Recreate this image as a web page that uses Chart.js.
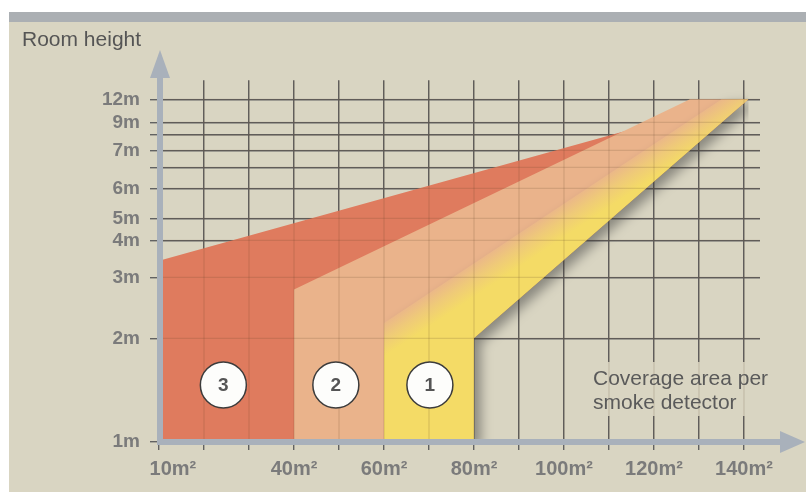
<!DOCTYPE html>
<html>
<head>
<meta charset="utf-8">
<script src="https://cdn.jsdelivr.net/npm/chart.js@4.4.1/dist/chart.umd.min.js"></script>
<style>
  html, body { margin: 0; padding: 0; background: #fff; }
  #contenedor { position: relative; width: 806px; height: 493px; }
</style>
</head>
<body>
<div id="contenedor"><canvas id="chartCobertura"></canvas></div>
<script>
// ticks de los ejes
const areaTicks = [10, 20, 30, 40, 50, 60, 70, 80, 90, 100, 110, 120, 130, 140];
const areaTickLabels = ['     10m²', '', '', '40m²', '', '60m²', '', '80m²', '', '100m²', '', '120m²', '', '140m²'];
const heightTicks = [1, 2, 3, 4, 5, 6, 6.5, 7, 8, 9, 12];
const heightTickLabels = ['1m', '2m', '3m', '4m', '5m', '6m', '', '7m', '', '9m', '12m'];

// borde superior de cada zona (x = m², y = altura en m)
const zona3X = [10, 139, 141];
const zona3Y = [3.45, 12, 12];
const zona2X = [40, 128, 141];
const zona2Y = [2.8, 12, 12];
const zona1X = [60, 135, 141];
const zona1Y = [2.25, 12, 12];
// borde inferior / derecho compartido
const bordeInfX = [10, 80, 80, 141];
const bordeInfY = [1, 1, 2, 12];

// marcadores numerados
const marcasTexto = ['3', '2', '1'];
const marcasX = [24.3, 49.3, 70.2];
const marcasY = [1.55, 1.55, 1.55];

const FUENTE = "'Liberation Sans', Arial, sans-serif";
const FONDO = '#d9d5c2';

// el eje de alturas del dibujo no es lineal ni logaritmico: escala por tramos
const alturaNodos = [1, 2, 3, 4, 5, 6, 6.5, 7, 8, 9, 12, 13];
const alturaPos = [0, 0.2866, 0.4552, 0.5575, 0.6183, 0.7012, 0.7593, 0.8062, 0.8485, 0.8836, 0.9472, 1];

function alturaADecimal(v) {
    for (let i = 1; i < alturaNodos.length; i++) {
        if (v <= alturaNodos[i] || i === alturaNodos.length - 1) {
            const a = alturaNodos[i - 1], b = alturaNodos[i];
            return alturaPos[i - 1] + (v - a) / (b - a) * (alturaPos[i] - alturaPos[i - 1]);
        }
    }
}

function decimalAAltura(d) {
    for (let i = 1; i < alturaPos.length; i++) {
        if (d <= alturaPos[i] || i === alturaPos.length - 1) {
            const a = alturaPos[i - 1], b = alturaPos[i];
            return alturaNodos[i - 1] + (d - a) / (b - a) * (alturaNodos[i] - alturaNodos[i - 1]);
        }
    }
}

class EscalaAltura extends Chart.LinearScale {
    getPixelForValue(value) {
        if (value === null || isNaN(value)) return NaN;
        return this.getPixelForDecimal(alturaADecimal(value));
    }
    getValueForPixel(pixel) {
        return decimalAAltura(this.getDecimalForPixel(pixel));
    }
}
EscalaAltura.id = 'altura';
Chart.register(EscalaAltura);

const puntos = (xs, ys) => xs.map((x, i) => ({ x: x, y: ys[i] }));

// degradado suave en el borde superior de la zona 1
function rellenoZona1(c) {
    const chart = c.chart;
    if (!chart.chartArea) return '#f4db66';
    const sx = chart.scales.x, sy = chart.scales.y;
    const x0 = sx.getPixelForValue(zona1X[0]), y0 = sy.getPixelForValue(zona1Y[0]);
    const x1 = sx.getPixelForValue(zona1X[1]), y1 = sy.getPixelForValue(zona1Y[1]);
    let nx = -(y1 - y0), ny = x1 - x0;
    const len = Math.hypot(nx, ny);
    nx /= len; ny /= len;
    const g = chart.ctx.createLinearGradient(x0, y0, x0 + nx * 28, y0 + ny * 28);
    g.addColorStop(0, '#ebb888');
    g.addColorStop(0.45, '#efca78');
    g.addColorStop(1, '#f4db66');
    return g;
}

const decoracion = {
    id: 'decoracion',
    beforeDraw(chart) {
        const ctx = chart.ctx;
        ctx.save();
        ctx.fillStyle = '#ffffff';
        ctx.fillRect(0, 0, chart.width, chart.height);
        ctx.fillStyle = '#abafb3';
        ctx.fillRect(9, 12, chart.width - 9, 10);
        ctx.fillStyle = FONDO;
        ctx.fillRect(9, 22, chart.width - 9, chart.height - 23);
        ctx.restore();
    },
    beforeDatasetsDraw(chart) {
        // hueco en la rejilla detras del texto del eje x
        const ctx = chart.ctx;
        ctx.save();
        ctx.fillStyle = FONDO;
        ctx.fillRect(588, 362, 198, 54);
        ctx.restore();
    },
    afterDatasetDraw(chart, args) {
        const ctx = chart.ctx;
        if (args.index === 1) {
            ctx.shadowColor = 'rgba(60,60,60,0.5)';
            ctx.shadowBlur = 12;
            ctx.shadowOffsetX = 7;
            ctx.shadowOffsetY = 5;
        }
        if (args.index === 2) {
            ctx.shadowColor = 'rgba(0,0,0,0)';
            ctx.shadowBlur = 0;
            ctx.shadowOffsetX = 0;
            ctx.shadowOffsetY = 0;
            // la rejilla se transparenta un poco sobre las zonas
            const { left, right, top, bottom } = chart.chartArea;
            const sx = chart.scales.x, sy = chart.scales.y;
            ctx.save();
            ctx.beginPath();
            ctx.rect(left, top, right - left, bottom - top);
            ctx.clip();
            ctx.strokeStyle = 'rgba(90,60,40,0.16)';
            ctx.lineWidth = 1.3;
            sx.ticks.forEach(t => {
                const px = sx.getPixelForValue(t.value);
                ctx.beginPath(); ctx.moveTo(px, top); ctx.lineTo(px, bottom); ctx.stroke();
            });
            sy.ticks.forEach(t => {
                const py = sy.getPixelForValue(t.value);
                ctx.beginPath(); ctx.moveTo(left, py); ctx.lineTo(right, py); ctx.stroke();
            });
            ctx.restore();
        }
    },
    afterDatasetsDraw(chart) {
        const ctx = chart.ctx;
        const meta = chart.getDatasetMeta(4);
        ctx.save();
        ctx.fillStyle = '#555555';
        ctx.font = 'bold 19px ' + FUENTE;
        ctx.textAlign = 'center';
        ctx.textBaseline = 'middle';
        meta.data.forEach((p, i) => ctx.fillText(marcasTexto[i], p.x, p.y + 1));
        ctx.restore();
    },
    afterDraw(chart) {
        const ctx = chart.ctx;
        const { left, bottom } = chart.chartArea;
        const ax = left + 1;
        ctx.save();
        ctx.strokeStyle = '#a9b1bb';
        ctx.fillStyle = '#a9b1bb';
        ctx.lineWidth = 6;
        // eje y con flecha
        ctx.beginPath(); ctx.moveTo(ax, bottom + 3); ctx.lineTo(ax, 76); ctx.stroke();
        ctx.beginPath(); ctx.moveTo(ax - 10, 78); ctx.lineTo(ax + 10, 78); ctx.lineTo(ax, 50); ctx.closePath(); ctx.fill();
        // eje x con flecha
        ctx.beginPath(); ctx.moveTo(ax - 3, bottom); ctx.lineTo(782, bottom); ctx.stroke();
        ctx.beginPath(); ctx.moveTo(780, bottom - 11); ctx.lineTo(780, bottom + 11); ctx.lineTo(805, bottom); ctx.closePath(); ctx.fill();

        ctx.fillStyle = '#5a5a5a';
        ctx.font = '21px ' + FUENTE;
        ctx.textAlign = 'left';
        ctx.textBaseline = 'middle';
        ctx.fillText('Coverage area per', 593, 379);
        ctx.fillText('smoke detector', 593, 403);
        ctx.restore();
    }
};

new Chart(document.getElementById('chartCobertura'), {
    type: 'line',
    data: {
        datasets: [
            {
                data: puntos(zona3X, zona3Y),
                backgroundColor: '#df7b5e', borderColor: 'rgba(0,0,0,0)', borderWidth: 0,
                pointRadius: 0, tension: 0, fill: 3, order: 3
            },
            {
                data: puntos(zona2X, zona2Y),
                backgroundColor: '#eab38b', borderColor: 'rgba(0,0,0,0)', borderWidth: 0,
                pointRadius: 0, tension: 0, fill: 3, order: 2
            },
            {
                data: puntos(zona1X, zona1Y),
                backgroundColor: rellenoZona1, borderColor: 'rgba(0,0,0,0)', borderWidth: 0,
                pointRadius: 0, tension: 0, fill: 3, order: 1
            },
            {
                data: puntos(bordeInfX, bordeInfY),
                borderColor: 'rgba(0,0,0,0)', borderWidth: 0,
                pointRadius: 0, tension: 0, fill: false, order: 4
            },
            {
                type: 'scatter',
                data: puntos(marcasX, marcasY),
                pointRadius: 23, pointBackgroundColor: '#fdfdfb',
                pointBorderColor: '#3c3c3c', pointBorderWidth: 1.5, order: 0
            }
        ]
    },
    options: {
        responsive: true,
        maintainAspectRatio: false,
        animation: false,
        events: [],
        layout: { padding: { left: 22, right: 46, top: 0, bottom: 0 } },
        plugins: {
            legend: { display: false },
            tooltip: { enabled: false },
            title: {
                display: true, text: 'Room height', align: 'start', color: '#555555',
                font: { family: FUENTE, size: 21, weight: 'normal' },
                padding: { top: 28, bottom: 27 }
            }
        },
        scales: {
            x: {
                type: 'linear', min: 10, max: 143.56,
                afterBuildTicks: s => { s.ticks = areaTicks.map(v => ({ value: v })); },
                afterFit: s => { s.height = 51; },
                grid: { color: '#626262', lineWidth: 1.4, tickLength: 8 },
                border: { display: false },
                ticks: {
                    autoSkip: false, maxRotation: 0, padding: 7, color: '#7b7b7b',
                    font: { family: FUENTE, size: 20, weight: 'bold' },
                    callback: (v, i) => areaTickLabels[i]
                }
            },
            y: {
                type: 'altura', min: 1, max: 13,
                afterBuildTicks: s => { s.ticks = heightTicks.map(v => ({ value: v })); },
                afterFit: s => { s.width = 137; },
                grid: { color: '#626262', lineWidth: 1.4, tickLength: 9 },
                border: { display: false },
                ticks: {
                    autoSkip: false, padding: 10, color: '#7b7b7b',
                    font: { family: FUENTE, size: 19, weight: 'bold' },
                    callback: (v, i) => heightTickLabels[i]
                }
            }
        }
    },
    plugins: [decoracion]
});
</script>
</body>
</html>
